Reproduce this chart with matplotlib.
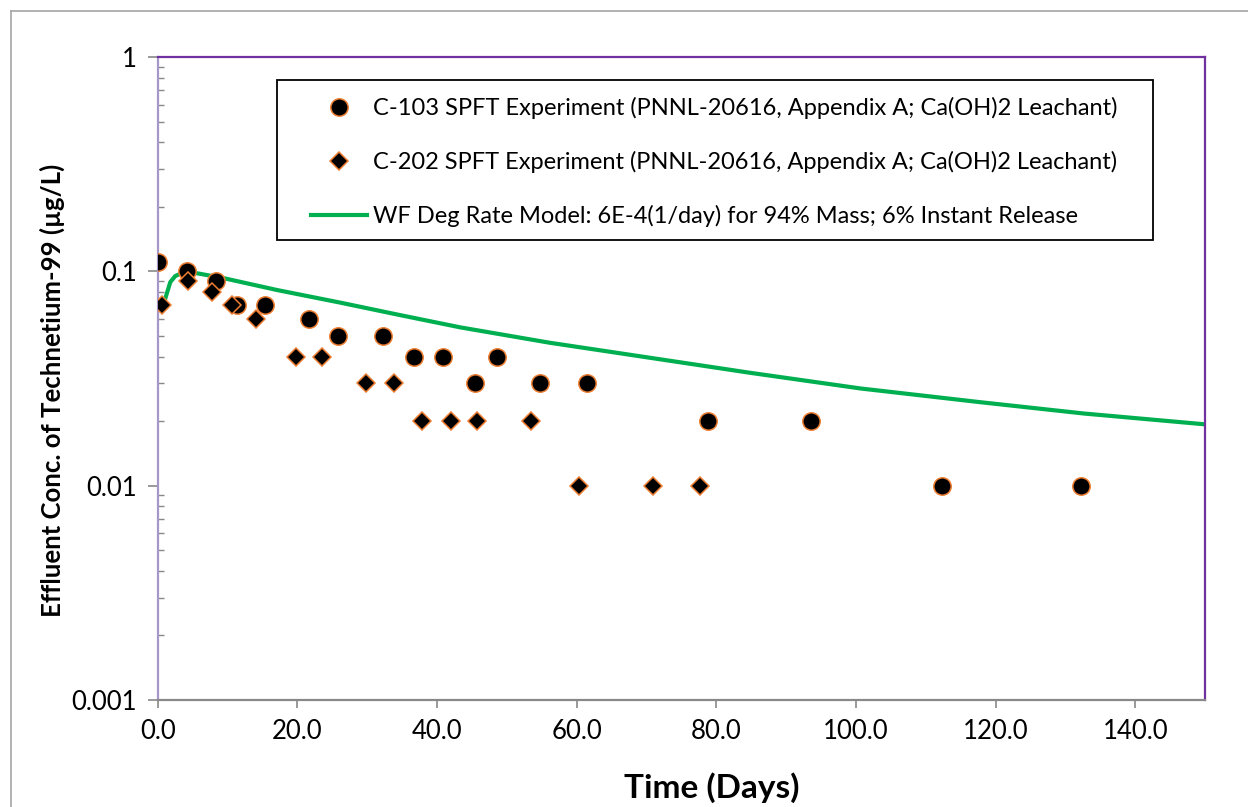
import matplotlib
matplotlib.use("Agg")
import matplotlib.pyplot as plt
from matplotlib.lines import Line2D
from matplotlib.patches import Rectangle
from matplotlib.ticker import FixedLocator, LogLocator, NullFormatter

plt.rcParams["font.family"] = ["Lato", "DejaVu Sans"]

# C-103 SPFT data (days, ug/L)
c103_days = [0.0, 4.2, 8.4, 11.4, 15.4, 21.6, 25.8, 32.3, 36.7, 40.9, 45.5, 48.6,
             54.8, 61.5, 78.8, 93.5, 112.4, 132.2]
c103_conc = [0.11, 0.10, 0.09, 0.07, 0.07, 0.06, 0.05, 0.05, 0.04, 0.04, 0.03, 0.04,
             0.03, 0.03, 0.02, 0.02, 0.01, 0.01]

# C-202 SPFT data
c202_days = [0.6, 4.4, 7.8, 10.7, 14.1, 19.8, 23.5, 29.8, 33.9, 37.9, 42.0, 45.7,
             53.4, 60.4, 70.9, 77.7]
c202_conc = [0.07, 0.09, 0.08, 0.07, 0.06, 0.04, 0.04, 0.03, 0.03, 0.02, 0.02, 0.02,
             0.02, 0.01, 0.01, 0.01]

# WF degradation rate model curve
model_days = [0.8, 1.8, 2.5, 3.4, 5.6, 9.4, 17.1, 26.1, 34.7, 43.3, 56.2, 63.4,
              84.9, 100.7, 117.9, 132.7, 150.2]
model_conc = [0.0696, 0.089, 0.095, 0.098, 0.098, 0.093, 0.0818, 0.0715, 0.0625,
              0.0548, 0.0464, 0.0428, 0.0336, 0.0284, 0.0245, 0.0217, 0.0193]

x_ticks = [0, 20, 40, 60, 80, 100, 120, 140]
y_ticks = [0.001, 0.01, 0.1, 1]
y_ticklabels = ["0.001", "0.01", "0.1", "1"]

labels = ["C-103 SPFT Experiment (PNNL-20616, Appendix A; Ca(OH)2 Leachant)",
          "C-202 SPFT Experiment (PNNL-20616, Appendix A; Ca(OH)2 Leachant)",
          "WF Deg Rate Model: 6E-4(1/day) for 94% Mass; 6% Instant Release"]

W, H = 1248, 807
GREEN, ORANGE, PURPLE, GREY = "#00B050", "#ED7D31", "#7030A0", "#898989"

fig = plt.figure(figsize=(W / 100, H / 100), dpi=100)
ax = fig.add_axes([157.7 / W, 1 - 700 / H, (1205 - 157.7) / W, (700 - 57) / H])

ln, = ax.plot(model_days, model_conc, "-", color=GREEN, lw=3, zorder=2)
c1, = ax.plot(c103_days, c103_conc, "o", ms=12.5, mfc="black", mec=ORANGE, mew=1.1,
              ls="none", zorder=3)
c2, = ax.plot(c202_days, c202_conc, "D", ms=9, mfc="black", mec=ORANGE, mew=1.1,
              ls="none", zorder=4)

ax.set_yscale("log")
ax.set_xlim(0, 150)
ax.set_ylim(0.001, 1)
ax.xaxis.set_major_locator(FixedLocator(x_ticks))
ax.set_xticklabels([f"{v:.1f}" for v in x_ticks])
ax.yaxis.set_major_locator(FixedLocator(y_ticks))
ax.set_yticklabels(y_ticklabels)
ax.yaxis.set_minor_locator(LogLocator(base=10, subs=range(2, 10)))
ax.yaxis.set_minor_formatter(NullFormatter())

ax.tick_params(axis="both", which="major", labelsize=18.5, colors=GREY, labelcolor="black")
ax.tick_params(axis="x", which="major", direction="out", length=6, width=1.2, pad=8)
ax.tick_params(axis="y", which="major", direction="out", length=7, width=1.2, pad=8)
ax.tick_params(axis="y", which="minor", direction="in", length=4, width=1.0, colors=GREY)

ax.spines["top"].set_color(PURPLE)
ax.spines["right"].set_color(PURPLE)
ax.spines["top"].set_linewidth(1.6)
ax.spines["right"].set_linewidth(1.6)
ax.spines["left"].set_color("#A597C8")
ax.spines["left"].set_linewidth(1.6)
ax.spines["bottom"].set_color(GREY)
ax.spines["bottom"].set_linewidth(1.6)

fig.text(52 / W, 1 - 390 / H, "Effluent Conc. of Technetium-99 (\u00b5g/L)",
         rotation=90, ha="center", va="center", fontsize=18.5, fontweight="bold")
fig.text(712 / W, 1 - 788 / H, "Time (Days)", ha="center", va="center",
         fontsize=24, fontweight="bold")

# legend with a hand-drawn square frame
lx0, ly0, lx1, ly1 = 277, 80, 1153, 240
fig.patches.append(Rectangle((lx0 / W, 1 - ly1 / H), (lx1 - lx0) / W, (ly1 - ly0) / H,
                             transform=fig.transFigure, fill=False, ec="black", lw=1.3))
fig.legend([c1, c2, ln], labels, loc="center left", frameon=False, fontsize=17,
           bbox_to_anchor=((lx0 + 22) / W, 1 - 162 / H),
           handlelength=2.4, handletextpad=0.25, labelspacing=1.35, borderpad=0,
           markerscale=1.0)

# outer chart-area border
fig.add_artist(Line2D([11 / W, 11 / W], [0, 1 - 11 / H], transform=fig.transFigure,
                      color="#A6A6A6", lw=1.2))
fig.add_artist(Line2D([11 / W, 1], [1 - 11 / H, 1 - 11 / H], transform=fig.transFigure,
                      color="#A6A6A6", lw=1.2))

fig.savefig("out.png", dpi=100)
